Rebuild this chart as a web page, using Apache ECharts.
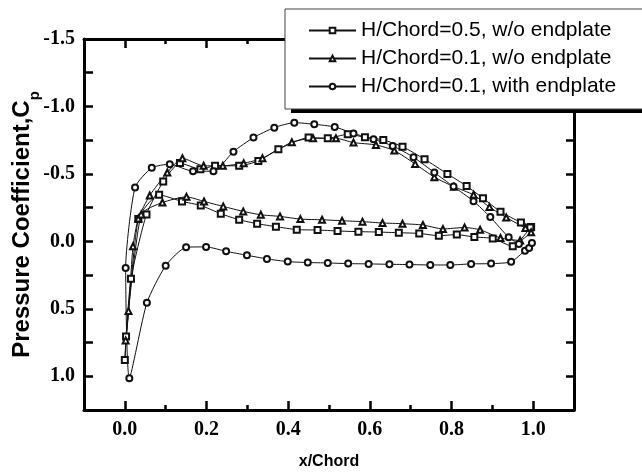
<!DOCTYPE html>
<html>
<head>
<meta charset="utf-8">
<script src="https://cdn.jsdelivr.net/npm/echarts@6/dist/echarts.min.js"></script>
<style>
  html, body { margin: 0; padding: 0; background: #fff; }
  #chart { width: 642px; height: 476px; }
</style>
</head>
<body>
<div id="chart"></div>
<script>
// H/Chord=0.5, w/o endplate  (upper surface TE -> LE, then lower surface LE -> TE)
const sqX  = [0.995, 0.970, 0.920, 0.877, 0.837, 0.790, 0.734, 0.680, 0.633, 0.588, 0.546, 0.497, 0.450, 0.376, 0.327, 0.280, 0.221, 0.185, 0.135, 0.094, 0.053, 0.015, 0.003, 0.000,
              0.033, 0.084, 0.140, 0.186, 0.235, 0.280, 0.324, 0.370, 0.421, 0.472, 0.521, 0.572, 0.622, 0.671, 0.721, 0.769, 0.813, 0.856, 0.901, 0.950, 0.993];
const sqCp = [-0.106, -0.140, -0.220, -0.320, -0.410, -0.500, -0.609, -0.702, -0.752, -0.772, -0.794, -0.764, -0.769, -0.683, -0.596, -0.560, -0.560, -0.535, -0.580, -0.443, -0.200, 0.278, 0.705, 0.880,
              -0.165, -0.345, -0.296, -0.266, -0.205, -0.160, -0.131, -0.109, -0.087, -0.084, -0.077, -0.072, -0.069, -0.064, -0.059, -0.042, -0.050, -0.032, -0.022, 0.037, -0.103];

// H/Chord=0.1, w/o endplate
const triX  = [0.981, 0.934, 0.893, 0.854, 0.806, 0.758, 0.711, 0.660, 0.615, 0.560, 0.517, 0.461, 0.409, 0.337, 0.291, 0.240, 0.193, 0.141, 0.104, 0.061, 0.033, 0.020, 0.009, 0.002,
               0.040, 0.092, 0.151, 0.194, 0.241, 0.290, 0.333, 0.380, 0.430, 0.483, 0.532, 0.582, 0.631, 0.680, 0.730, 0.779, 0.832, 0.870, 0.920, 0.968, 0.995];
const triCp = [-0.099, -0.177, -0.254, -0.345, -0.405, -0.476, -0.574, -0.673, -0.715, -0.732, -0.764, -0.764, -0.735, -0.616, -0.579, -0.560, -0.560, -0.616, -0.510, -0.340, -0.170, 0.037, 0.517, 0.734,
               -0.200, -0.288, -0.330, -0.296, -0.259, -0.222, -0.197, -0.185, -0.165, -0.160, -0.153, -0.146, -0.136, -0.131, -0.121, -0.092, -0.103, -0.086, -0.025, -0.007, -0.067];

// H/Chord=0.1, with endplate
const cirX  = [0.965, 0.940, 0.895, 0.854, 0.805, 0.758, 0.707, 0.656, 0.609, 0.560, 0.514, 0.464, 0.415, 0.366, 0.315, 0.266, 0.217, 0.167, 0.110, 0.066, 0.025, 0.002, 0.011,
               0.054, 0.100, 0.150, 0.199, 0.248, 0.299, 0.348, 0.399, 0.448, 0.497, 0.547, 0.597, 0.648, 0.697, 0.748, 0.797, 0.848, 0.897, 0.946, 0.980, 0.990, 0.997];
const cirCp = [0.020, -0.030, -0.180, -0.298, -0.406, -0.510, -0.624, -0.707, -0.757, -0.800, -0.848, -0.868, -0.880, -0.843, -0.769, -0.665, -0.520, -0.520, -0.572, -0.545, -0.400, 0.197, 1.015,
               0.455, 0.180, 0.044, 0.041, 0.074, 0.103, 0.130, 0.150, 0.157, 0.160, 0.165, 0.167, 0.170, 0.172, 0.175, 0.175, 0.167, 0.165, 0.152, 0.069, 0.050, 0.012];

const seriesNames = ['H/Chord=0.5, w/o endplate', 'H/Chord=0.1, w/o endplate', 'H/Chord=0.1, with endplate'];
const xMajorTicks = [0, 0.2, 0.4, 0.6, 0.8, 1.0];

const pairs = (xs, ys) => xs.map((x, i) => [x, ys[i]]);

const chart = echarts.init(document.getElementById('chart'));

const gridBox = { left: 84, right: 68, top: 39, bottom: 66, containLabel: false, outerBoundsMode: 'none' };
const frameLine = { show: true, onZero: false, lineStyle: { color: '#000', width: 3 } };
const noLine = { show: false, onZero: false };
const tickLine = { color: '#000', width: 2.5 };
const tickFont = { fontFamily: 'Liberation Serif', fontWeight: 'bold', fontSize: 20, color: '#000' };

function xLabel(v) {
  const k = Math.round(v * 10);
  return (k >= 0 && k <= 10 && k % 2 === 0) ? (k / 10).toFixed(1) : '';
}
function yLabel(v) {
  const k = Math.round(v * 4);
  return k % 2 === 0 ? (k / 4).toFixed(1) : '';
}

const baseX = { type: 'value', min: -0.1, max: 1.1, interval: 0.1, splitLine: { show: false } };
const baseY = { type: 'value', min: -1.5, max: 1.25, interval: 0.25, inverse: true, splitLine: { show: false } };

function makeSeries(name, symbol, xs, ys) {
  return {
    name: name,
    type: 'line',
    data: pairs(xs, ys),
    symbol: symbol,
    symbolSize: 6,
    smooth: 0.2,
    showAllSymbol: true,
    lineStyle: { color: '#111', width: 1 },
    itemStyle: { color: '#111', borderColor: '#111', borderWidth: 1 },
    emphasis: { disabled: true },
    z: 3
  };
}

chart.setOption({
  animation: false,
  backgroundColor: '#fff',
  grid: [gridBox, Object.assign({}, gridBox)],
  xAxis: [
    // grid 0: frame + minor ticks + labels
    Object.assign({}, baseX, {
      gridIndex: 0,
      position: 'bottom',
      axisLine: frameLine,
      axisTick: { show: true, inside: true, length: 5, lineStyle: tickLine },
      axisLabel: Object.assign({ formatter: xLabel, margin: 10 }, tickFont),
      name: 'x/Chord',
      nameLocation: 'middle',
      nameGap: 44,
      nameMoveOverlap: false,
      nameTextStyle: { fontFamily: 'Liberation Sans', fontWeight: 'bold', fontSize: 16, color: '#000' }
    }),
    Object.assign({}, baseX, {
      gridIndex: 0,
      position: 'top',
      axisLine: frameLine,
      axisTick: { show: true, inside: true, length: 5, lineStyle: tickLine },
      axisLabel: { show: false }
    }),
    // grid 1: longer major ticks only
    Object.assign({}, baseX, {
      gridIndex: 1,
      position: 'bottom',
      axisLine: noLine,
      axisTick: { show: true, inside: true, length: 9, customValues: xMajorTicks, lineStyle: tickLine },
      axisLabel: { show: false }
    }),
    Object.assign({}, baseX, {
      gridIndex: 1,
      position: 'top',
      axisLine: noLine,
      axisTick: { show: true, inside: true, length: 9, customValues: xMajorTicks, lineStyle: tickLine },
      axisLabel: { show: false }
    })
  ],
  yAxis: [
    Object.assign({}, baseY, {
      gridIndex: 0,
      position: 'left',
      axisLine: frameLine,
      axisTick: { show: true, inside: true, length: 9, lineStyle: tickLine },
      axisLabel: Object.assign({ formatter: yLabel, margin: 9 }, tickFont),
      name: '{m|Pressure Coefficient,C}{s|p}',
      nameLocation: 'middle',
      nameRotate: 90,
      nameGap: 42,
      nameMoveOverlap: false,
      nameTextStyle: {
        rich: {
          m: { fontFamily: 'Liberation Sans', fontWeight: 'bold', fontSize: 24, color: '#000', lineHeight: 32, verticalAlign: 'top' },
          s: { fontFamily: 'Liberation Sans', fontWeight: 'bold', fontSize: 15, color: '#000', lineHeight: 32, verticalAlign: 'bottom' }
        }
      }
    }),
    Object.assign({}, baseY, {
      gridIndex: 0,
      position: 'right',
      axisLine: frameLine,
      axisTick: { show: true, inside: true, length: 8, lineStyle: tickLine },
      axisLabel: { show: false }
    }),
    Object.assign({}, baseY, {
      gridIndex: 1,
      show: false
    })
  ],
  // hard drop shadow under the legend box
  graphic: {
    elements: [
      {
        type: 'group',
        z: 100,
        children: [
          { type: 'rect', shape: { x: 291, y: 95, width: 360, height: 18 }, style: { fill: '#000' } }
        ]
      }
    ]
  },
  legend: {
    z: 110,
    orient: 'vertical',
    left: 285,
    top: 9,
    padding: [11, 40, 12, 23],
    backgroundColor: '#fff',
    borderColor: '#444',
    borderWidth: 1,
    itemWidth: 47,
    itemHeight: 7,
    itemGap: 7,
    data: seriesNames,
    textStyle: { fontFamily: 'Liberation Sans', fontSize: 21, color: '#000', lineHeight: 21 }
  },
  series: [
    makeSeries(seriesNames[0], 'emptyRect', sqX, sqCp),
    makeSeries(seriesNames[1], 'emptyTriangle', triX, triCp),
    makeSeries(seriesNames[2], 'emptyCircle', cirX, cirCp)
  ]
});
</script>
</body>
</html>
